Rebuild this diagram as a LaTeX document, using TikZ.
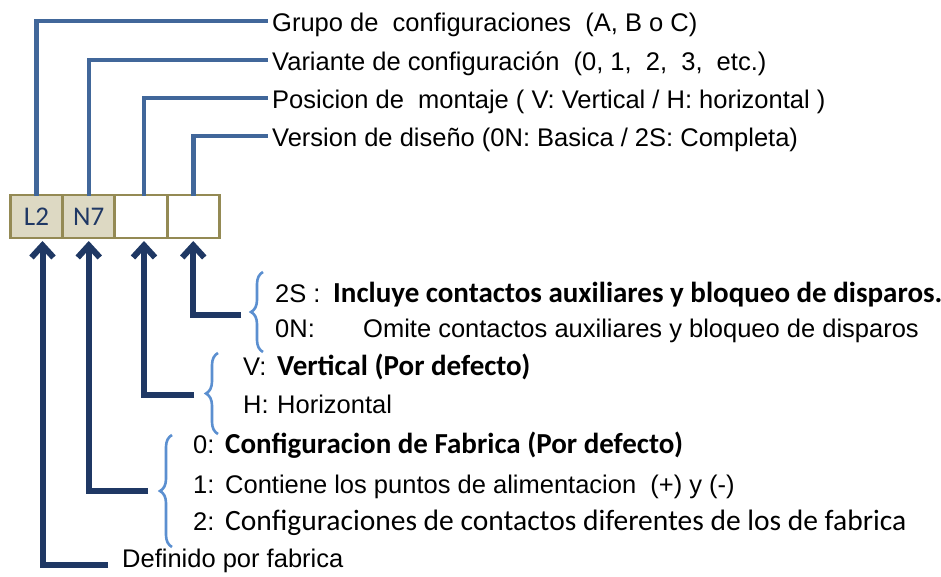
\documentclass[tikz,border=0pt]{standalone}
\usepackage{fontspec}
\setmainfont{Liberation Sans}
\newfontfamily\calibri{Carlito}
\usepackage{tikz}
\usetikzlibrary{positioning,arrows.meta,decorations.pathreplacing}
\definecolor{azul}{HTML}{41679A}
\definecolor{marino}{HTML}{1F3864}
\definecolor{celeste}{HTML}{5B8FD0}
\definecolor{oliva}{HTML}{948A54}
\definecolor{beige}{HTML}{DDD9C3}
\tikzset{caja/.style={
    draw=oliva,
    line width=2.8pt,
    minimum width=52.25pt,
    minimum height=43pt,
    inner sep=0pt,
    outer sep=0pt,
    text=marino,
    font=\calibri\fontsize{27}{32}\selectfont}}
\tikzset{etiq/.style={
    anchor=west,
    inner sep=0pt,
    text height=0.75em,
    text depth=0.2em,
    font=\fontsize{25.5}{30}\selectfont}}
\tikzset{negrita/.style={
    etiq,
    font=\calibri\bfseries\fontsize{29}{34}\selectfont}}
\tikzset{guia/.style={
    draw=azul,
    line width=4.5pt}}
\tikzset{flecha/.style={
    draw=marino,
    line width=6pt,
    -{Straight Barb[length=12pt,width=22pt]}}}
\tikzset{llave/.style={
    draw=celeste,
    line width=2.6pt,
    decorate,
    decoration={brace,amplitude=12pt}}}

\begin{document}
\begin{tikzpicture}[x=1pt,y=-1pt]
\useasboundingbox (0,0) rectangle (941,577);

  % casillas
  \node[caja,fill=beige] (b1) at (36.5,216.5) {L2};
  \node[caja,fill=beige,right=0pt of b1] (b2) {N7};
  \node[caja,right=0pt of b2] (b3) {};
  \node[caja,right=0pt of b3] (b4) {};

  % textos de arriba
  \node[etiq] (grupo) at (272,29) {Grupo de~ configuraciones~ (A, B o C)};
  \node[etiq] (variante) at (272,68) {Variante de configuración~ (0, 1,~ 2,~ 3,~ etc.)};
  \node[etiq] (posicion) at (272,106) {Posicion de~ montaje ( V: Vertical / H: horizontal )};
  \node[etiq] (version) at (272,144) {Version de diseño (0N: Basica / 2S: Completa)};

  \draw[guia] ([yshift=-1pt]b1.north) |- ([xshift=-4pt,yshift=8pt]grupo.west);
  \draw[guia] ([yshift=-1pt]b2.north) |- ([xshift=-4pt,yshift=8pt]variante.west);
  \draw[guia] ([xshift=3pt,yshift=-1pt]b3.north) |- ([xshift=-4pt,yshift=8pt]posicion.west);
  \draw[guia] ([yshift=-1pt]b4.north) |- ([xshift=-4pt,yshift=8pt]version.west);

  % textos de abajo
  \node[etiq] (k2s) at (275,300) {2S :};
  \node[negrita] (d2s) at (333,300) {Incluye contactos auxiliares y bloqueo de disparos.};
  \node[etiq] (k0n) at (275,335) {0N:};
  \node[etiq] (d0n) at (363,335) {Omite contactos auxiliares y bloqueo de disparos};
  \node[etiq] (kv) at (243,373) {V:};
  \node[negrita] (dv) at (277,373) {Vertical (Por defecto)};
  \node[etiq] (kh) at (243,411) {H:};
  \node[etiq] (dh) at (277,411) {Horizontal};
  \node[etiq] (k0) at (193,451) {0:};
  \node[negrita] (d0) at (225,451) {Configuracion de Fabrica (Por defecto)};
  \node[etiq] (k1) at (193,491) {1:};
  \node[etiq] (d1) at (225,491) {Contiene los puntos de alimentacion~ (+) y (-)};
  \node[etiq] (k2) at (193,528) {2:};
  \node[negrita,font=\calibri\fontsize{29.5}{34}\selectfont] (d2) at (225,528) {Configuraciones de contactos diferentes de los de fabrica};
  \node[etiq] (def) at (122,565) {Definido por fabrica};

  % llaves
  \draw[llave] (263,352) -- (263,272);
  \draw[llave] (218,434) -- (218,353);
  \draw[llave] (172,547) -- (172,435);
  \coordinate (t4) at (251,315);
  \coordinate (t3) at (206,395);
  \coordinate (t2) at (160,491);

  % flechas
  \draw[flecha,shorten <=10pt] (t4) -| ([yshift=-3pt]b4.south);
  \draw[flecha,shorten <=12pt] (t3) -| ([xshift=3pt,yshift=-3pt]b3.south);
  \draw[flecha,shorten <=12pt] (t2) -| ([yshift=-3pt]b2.south);
  \draw[flecha,shorten <=14pt] (def.west) -| ([xshift=6pt,yshift=-3pt]b1.south);
\end{tikzpicture}
\end{document}
